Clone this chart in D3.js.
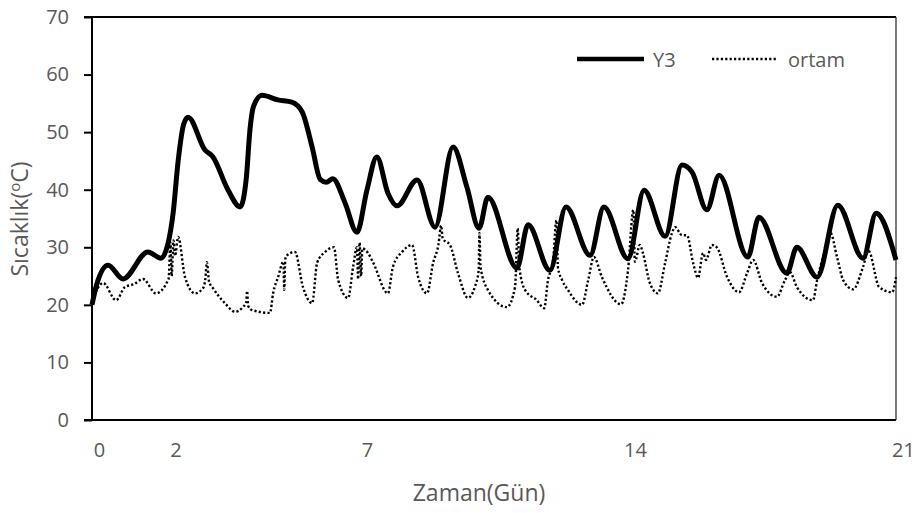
<!DOCTYPE html>
<html>
<head>
<meta charset="utf-8">
<script src="https://cdn.jsdelivr.net/npm/d3@7"></script>
<style>
  body { margin: 0; background: #fff; }
  text { font-family: "Open Sans", sans-serif; fill: #595959; }
</style>
</head>
<body>
<script>
// data (days, temperature in C)
const y3Days = [0.00, 0.12, 0.42, 0.81, 1.46, 1.80, 1.98, 2.12, 2.25, 2.40, 2.51, 2.95, 3.16, 3.55, 3.87,
  4.03, 4.12, 4.22, 4.44, 4.86, 5.22, 5.49, 5.75, 5.96, 6.12, 6.29, 6.61, 6.92, 7.18, 7.44, 7.73, 7.97,
  8.49, 8.96, 9.43, 9.79, 10.11, 10.34, 11.10, 11.39, 11.96, 12.38, 13.01, 13.37, 14.00, 14.42, 14.97,
  15.41, 15.67, 16.06, 16.38, 17.13, 17.42, 18.15, 18.41, 18.94, 19.48, 20.14, 20.48, 21.00];
const y3Temp = [20.0, 23.5, 26.9, 24.5, 29.2, 28.1, 30.5, 36.0, 45.0, 51.5, 52.6, 46.9, 45.7, 40.0, 37.0,
  42.0, 50.0, 54.5, 56.4, 55.6, 55.2, 53.5, 47.4, 41.8, 41.3, 41.9, 37.7, 32.6, 39.9, 45.7, 39.4, 37.2,
  41.7, 33.5, 47.4, 40.5, 33.3, 38.7, 26.4, 33.9, 26.0, 37.0, 28.6, 37.0, 28.0, 39.9, 31.9,
  44.3, 43.1, 36.5, 42.5, 28.3, 35.2, 25.5, 30.0, 24.8, 37.3, 28.1, 35.9, 27.8];

const ortamDays = [0.00, 0.29, 0.63, 0.86, 1.10, 1.33, 1.67, 2.00, 2.05, 2.08, 2.13, 2.17, 2.25, 2.43, 2.69,
  2.90, 2.96, 3.00, 3.06, 3.16, 3.47, 3.74, 3.94, 4.03, 4.05, 4.08, 4.18, 4.65, 4.73, 4.86, 5.00, 5.02,
  5.05, 5.09, 5.30, 5.51, 5.75, 5.88, 6.09, 6.32, 6.43, 6.69, 6.82, 6.92, 6.95, 6.99, 7.03, 7.06, 7.21,
  7.34, 7.73, 7.86, 8.10, 8.36, 8.52, 8.75, 8.91, 9.05, 9.12, 9.16, 9.35, 9.56, 9.82, 10.00, 10.10, 10.12,
  10.15, 10.34, 10.84, 11.05, 11.12, 11.16, 11.31, 11.62, 11.81, 11.91, 12.04, 12.13, 12.17, 12.28, 12.43,
  12.80, 12.96, 13.11, 13.32, 13.82, 14.00, 14.14, 14.18, 14.31, 14.39, 14.57, 14.78, 14.97, 15.15, 15.23,
  15.41, 15.54, 15.70, 15.83, 15.96, 16.04, 16.19, 16.32, 16.59, 16.90, 17.11, 17.27, 17.50, 17.89, 18.10,
  18.23, 18.41, 18.83, 18.94, 19.09, 19.28, 19.46, 19.62, 19.88, 20.14, 20.28, 20.56, 20.90, 21.00];
const ortamTemp = [20.8, 23.8, 20.8, 23.1, 23.6, 24.5, 22.0, 24.5, 30.8, 25.0, 31.2, 28.5, 31.8, 24.8, 22.0,
  22.9, 24.5, 27.4, 24.0, 22.9, 20.3, 18.8, 19.6, 20.5, 22.4, 19.8, 19.1, 18.6, 22.0, 24.8, 27.5, 22.6,
  28.0, 28.6, 29.2, 23.1, 20.3, 27.3, 29.2, 30.0, 24.3, 21.2, 26.6, 30.0, 24.5, 30.8, 25.0, 29.8, 29.0,
  27.4, 22.0, 26.6, 29.2, 30.4, 24.8, 22.0, 27.3, 30.5, 33.8, 31.5, 30.4, 25.5, 21.2, 23.1, 26.0, 32.5,
  26.5, 22.6, 19.6, 23.1, 33.3, 26.6, 22.6, 20.8, 19.4, 24.3, 27.4, 34.7, 26.5, 24.3, 22.6,
  20.0, 24.3, 28.3, 24.8, 20.1, 26.0, 36.5, 27.5, 30.4, 29.0, 23.8, 22.0, 27.3, 32.5, 33.5,
  32.1, 32.1, 27.3, 24.7, 29.0, 27.8, 30.4, 30.0, 24.8, 22.2, 25.5, 27.8, 23.8, 21.4, 24.3,
  25.7, 23.1, 20.8, 24.3, 28.3, 32.6, 28.3, 24.3, 22.7, 26.6, 29.4, 23.1, 22.2, 24.8];

const xTicks = [0, 2, 7, 14, 21];
const yTicks = [0, 10, 20, 30, 40, 50, 60, 70];
const seriesNames = ["Y3", "ortam"];

const W = 924, H = 513;
const plotLeft = 92, plotRight = 896, plotTop = 17, plotBottom = 420;

const svg = d3.select("body").append("svg")
    .attr("width", W)
    .attr("height", H);

const x = d3.scaleLinear().domain([0, 21]).range([plotLeft, plotRight]);
const y = d3.scaleLinear().domain([0, 70]).range([plotBottom, plotTop]);

// y axis
const yAxis = svg.append("g")
    .attr("transform", "translate(" + plotLeft + ",0)")
    .call(d3.axisLeft(y).tickValues(yTicks).tickSize(8).tickPadding(15));
yAxis.select(".domain").remove();
yAxis.selectAll("line").attr("stroke", "#000").attr("stroke-width", 2);
yAxis.selectAll("text").attr("font-size", 20).attr("fill", "#595959").attr("font-family", "Open Sans");

// x axis (labels only)
const xAxis = svg.append("g")
    .attr("transform", "translate(0," + plotBottom + ")")
    .call(d3.axisBottom(x).tickValues(xTicks).tickSize(0).tickPadding(23));
xAxis.select(".domain").remove();
xAxis.selectAll("text").attr("font-size", 20).attr("fill", "#595959")
    .attr("font-family", "Open Sans").attr("dx", 7);

// plot frame
svg.append("line").attr("x1", plotLeft - 8).attr("x2", plotRight).attr("y1", plotTop).attr("y2", plotTop)
    .attr("stroke", "#000").attr("stroke-width", 2);
svg.append("line").attr("x1", plotRight).attr("x2", plotRight).attr("y1", plotTop).attr("y2", plotBottom)
    .attr("stroke", "#333").attr("stroke-width", 1.3);
svg.append("line").attr("x1", plotLeft).attr("x2", plotLeft).attr("y1", plotTop).attr("y2", plotBottom)
    .attr("stroke", "#000").attr("stroke-width", 2);
svg.append("line").attr("x1", plotLeft - 8).attr("x2", plotRight).attr("y1", plotBottom).attr("y2", plotBottom)
    .attr("stroke", "#000").attr("stroke-width", 2);

// lines
const line = d3.line()
    .x(d => x(d[0]))
    .y(d => y(d[1]))
    .curve(d3.curveMonotoneX);

svg.append("path")
    .datum(ortamDays.map((d, i) => [d, ortamTemp[i]]))
    .attr("fill", "none")
    .attr("stroke", "#000")
    .attr("stroke-width", 2.4)
    .attr("stroke-dasharray", "2.2,2.2")
    .attr("d", line);

svg.append("path")
    .datum(y3Days.map((d, i) => [d, y3Temp[i]]))
    .attr("fill", "none")
    .attr("stroke", "#000")
    .attr("stroke-width", 5)
    .attr("stroke-linejoin", "round")
    .attr("d", line);

// legend
const legend = svg.append("g");
legend.append("line").attr("x1", 577).attr("x2", 644).attr("y1", 59).attr("y2", 59)
    .attr("stroke", "#000").attr("stroke-width", 4.5);
legend.append("text").attr("x", 653).attr("y", 67).attr("font-size", 20).text(seriesNames[0]);
legend.append("line").attr("x1", 712).attr("x2", 778).attr("y1", 59).attr("y2", 59)
    .attr("stroke", "#000").attr("stroke-width", 2.4).attr("stroke-dasharray", "2.2,2.2");
legend.append("text").attr("x", 788).attr("y", 67).attr("font-size", 20).text(seriesNames[1]);

// axis titles
svg.append("text")
    .attr("x", 479)
    .attr("y", 501)
    .attr("font-size", 23)
    .style("text-anchor", "middle")
    .text("Zaman(Gün)");

const yTitle = svg.append("text")
    .attr("transform", "translate(28,219) rotate(-90)")
    .attr("font-size", 23)
    .style("text-anchor", "middle");
yTitle.append("tspan").text("Sıcaklık(");
yTitle.append("tspan").attr("font-size", 15).attr("dy", -8).text("o");
yTitle.append("tspan").attr("dy", 8).text("C)");
</script>
</body>
</html>
